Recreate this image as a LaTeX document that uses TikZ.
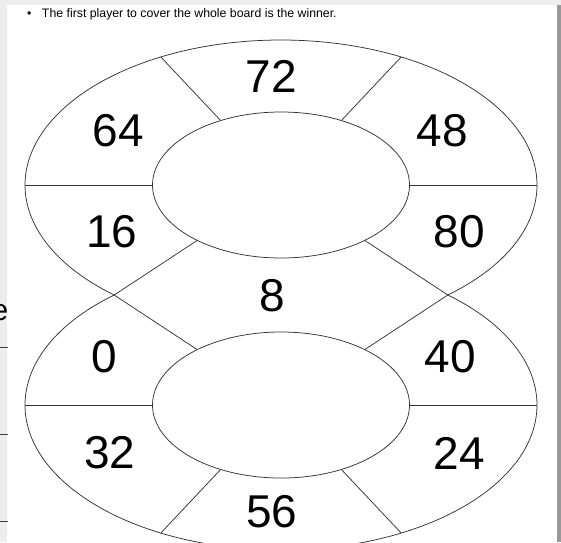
\documentclass[tikz,border=0pt]{standalone}
\usepackage{fontspec}
\setmainfont{Liberation Sans}
\usetikzlibrary{positioning}
\usetikzlibrary{calc}

\begin{document}
\begin{tikzpicture}[x=1pt, y=-1pt, every node/.style={inner sep=0pt},
    rim/.style={draw=black!80, line width=0.75pt},
    num/.style={font=\fontsize{46}{46}\selectfont}]

      % Page with the grey frame of the screenshot
      \useasboundingbox (0,0) rectangle (561,542);
      \fill[black!7] (0,0) rectangle (561,5);
      \fill[black!7] (0,0) rectangle (7,542);
      \fill[black!40] (557,5) rectangle (561,542);

      % Cut-off bits of the page on the left
      \begin{scope}
        \clip (0,290) rectangle (8,330);
        \node[anchor=base east, font=\fontsize{30}{30}\selectfont] (cut) at (8.5,320) {e};
      \end{scope}
      \foreach \y [count=\k] in {347,434,521} {
        \coordinate (sa\k) at (0,\y);
        \coordinate (sb\k) at (8,\y);
        \draw[black!75, line width=0.6pt] (sa\k) -- (sb\k);
      }

      % Rule above the board
      \node[anchor=base west, font=\fontsize{12.3}{14}\selectfont] (rule) at (27,17)
        {•\hspace{10.5pt}The first player to cover the whole board is the winner.};

      % Outer and inner radii
      \def\rxo{256pt}
      \def\ryo{145pt}
      \def\rxi{128.5pt}
      \def\ryi{73pt}

      % Angle where the two rings cross
      \def\cross{49.34}

      % Centres of the two rings
      \coordinate (up) at (281,185);
      \coordinate (lo) at (281,405);

      % Outer rims, only the outside part of each ring
      \coordinate (ustart) at ([shift={(-\cross:{\rxo} and {\ryo})}] up);
      \draw[rim] (ustart) arc[start angle=-\cross, end angle=180+\cross, x radius=\rxo, y radius=\ryo];
      \coordinate (lstart) at ([shift={(180-\cross:{\rxo} and {\ryo})}] lo);
      \draw[rim] (lstart) arc[start angle=180-\cross, end angle=360+\cross, x radius=\rxo, y radius=\ryo];

      % Inner ellipses
      \draw[rim] (up) ellipse[x radius=\rxi, y radius=\ryi];
      \draw[rim] (lo) ellipse[x radius=\rxi, y radius=\ryi];

      % Spokes of the upper ring
      \foreach \a [count=\n] in {0,62,118,180,180+\cross,360-\cross} {
        \coordinate (ui\n) at ([shift={(\a:{\rxi} and {\ryi})}] up);
        \coordinate (uo\n) at ([shift={(\a:{\rxo} and {\ryo})}] up);
        \draw[rim] (ui\n) -- (uo\n);
      }

      % Spokes of the lower ring
      \foreach \a [count=\n] in {0,\cross,180-\cross,180,242,298} {
        \coordinate (li\n) at ([shift={(\a:{\rxi} and {\ryi})}] lo);
        \coordinate (lo\n) at ([shift={(\a:{\rxo} and {\ryo})}] lo);
        \draw[rim] (li\n) -- (lo\n);
      }

      % Numbers in the fields
      \foreach \v/\x/\y in {72/271.5/76.5, 64/118.5/130.5, 48/442/130.5,
                            16/112/232, 80/459/232, 8/272.5/296,
                            0/104/357, 40/450/357, 32/110/453,
                            24/459/453, 56/272/512} {
        \node[num] (n\v) at (\x,\y) {\v};
      }

    \end{tikzpicture}
\end{document}
